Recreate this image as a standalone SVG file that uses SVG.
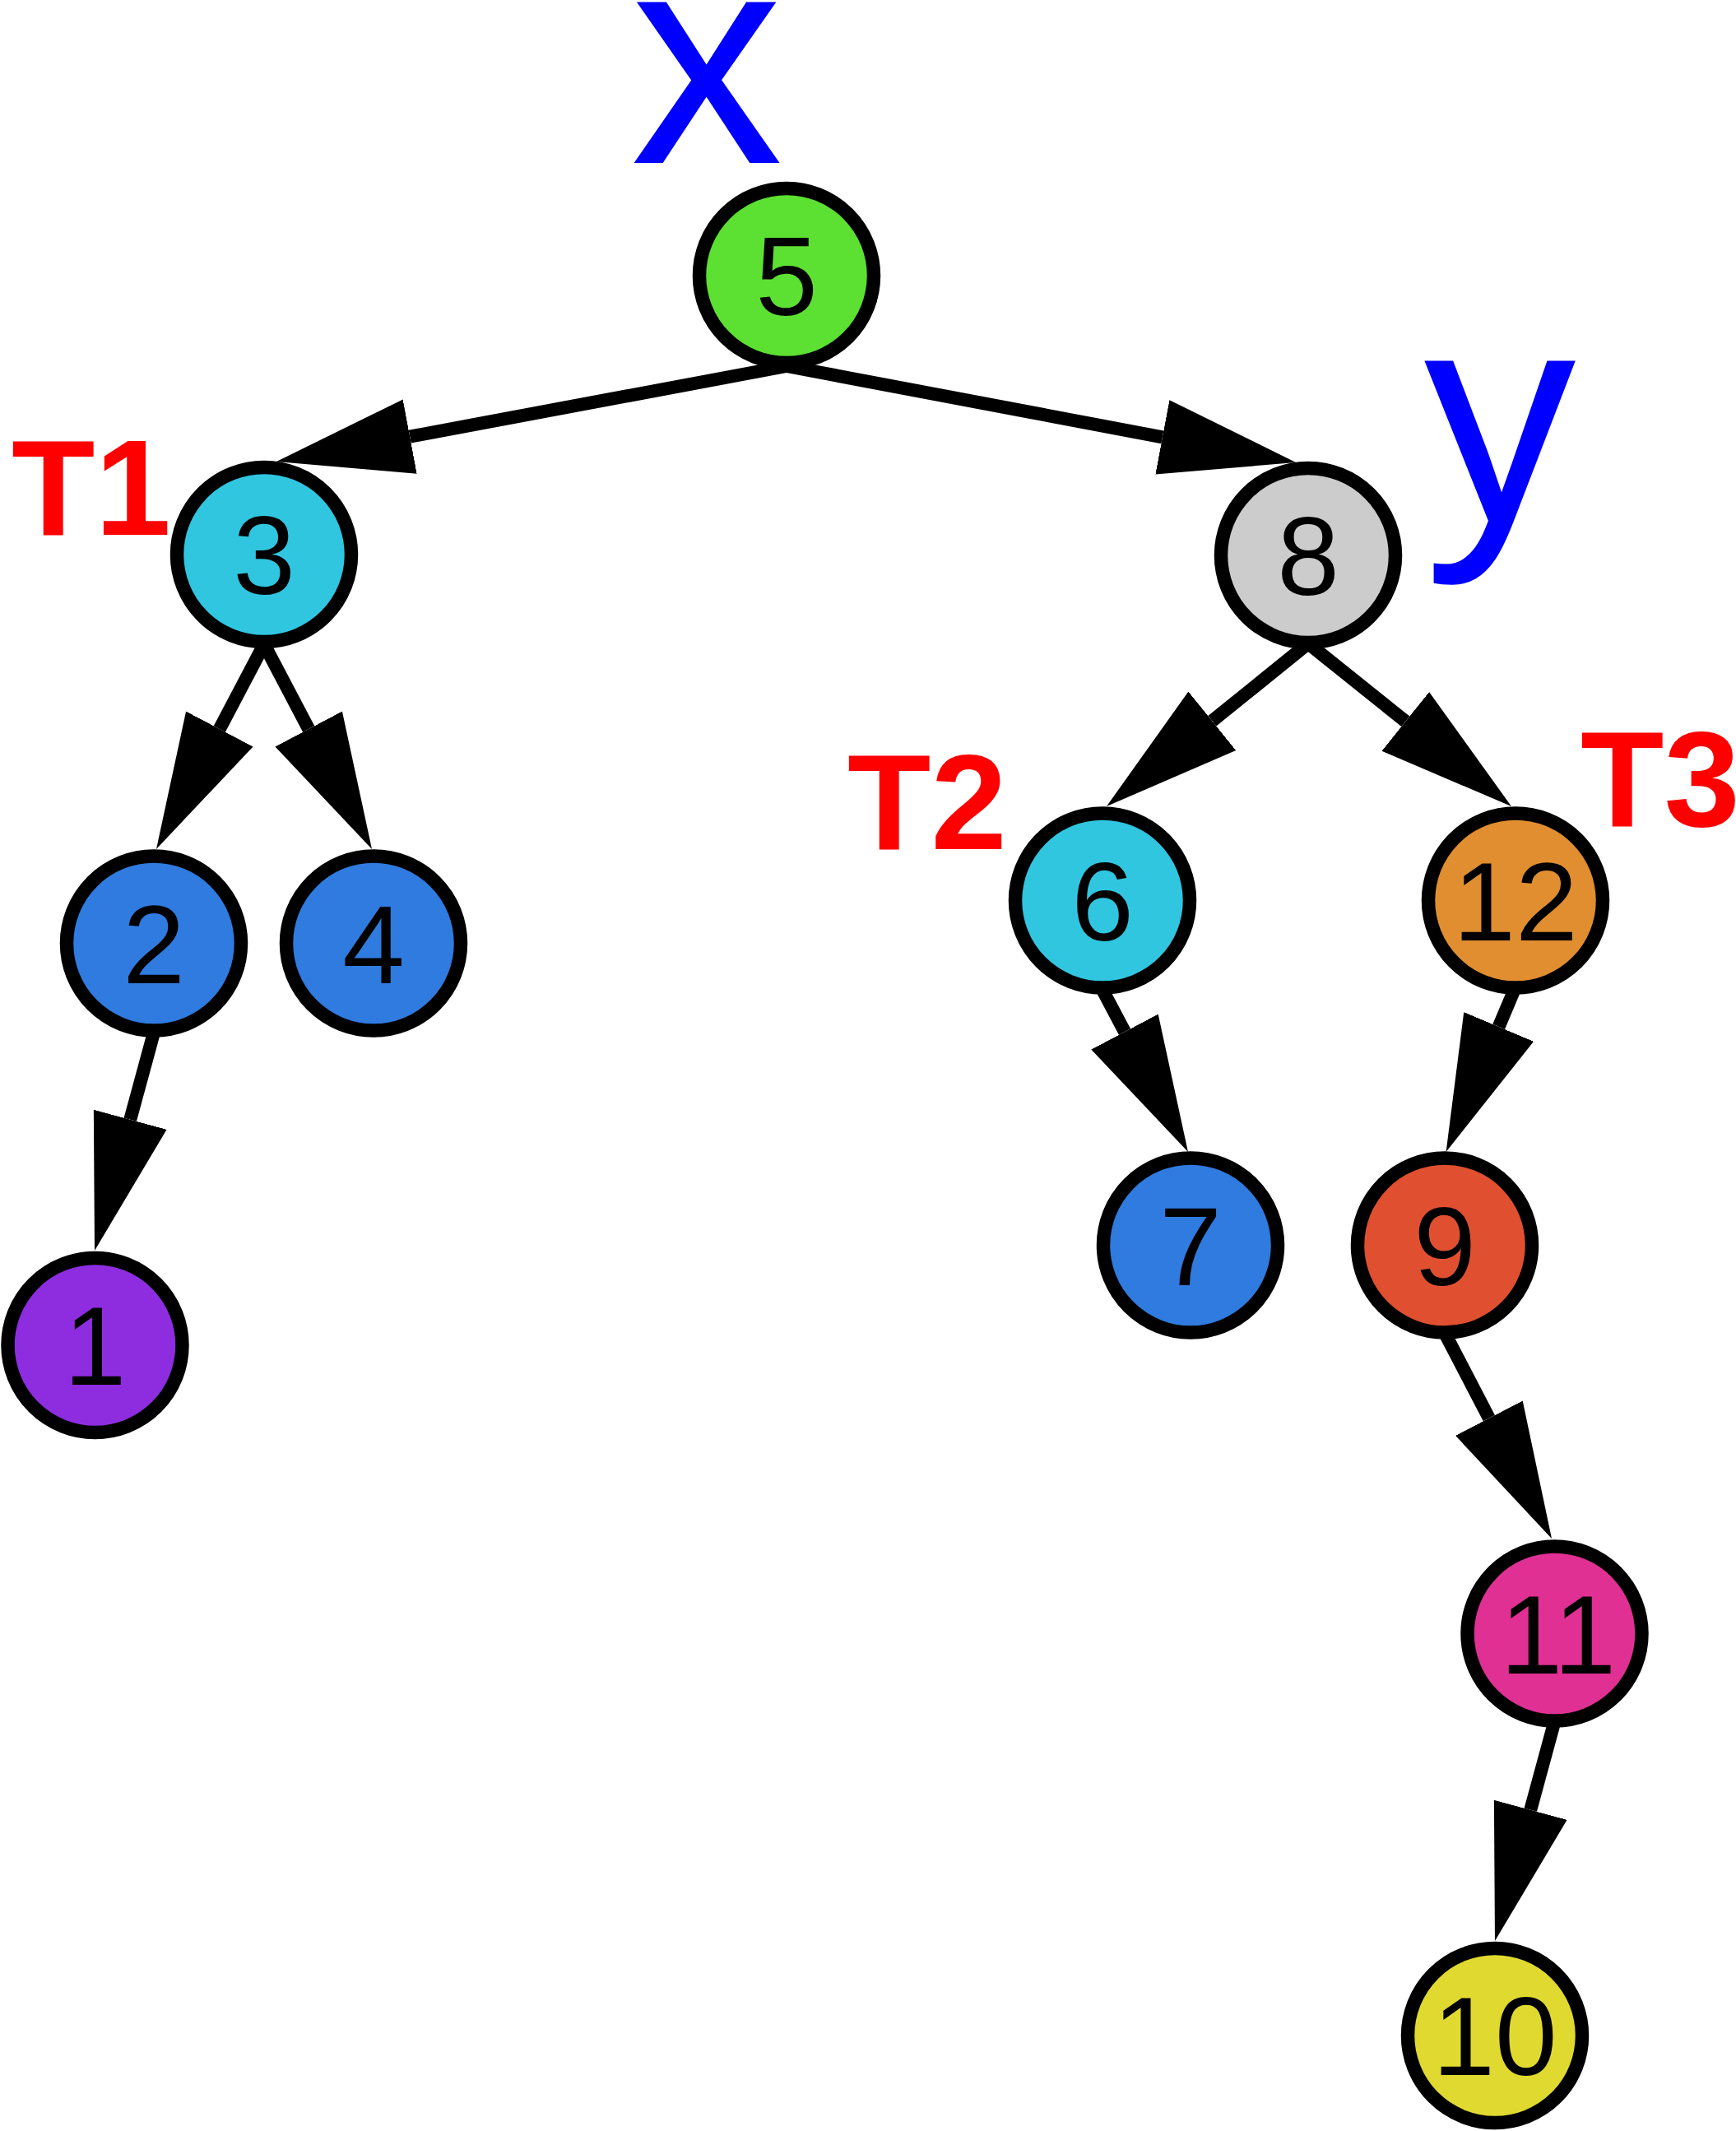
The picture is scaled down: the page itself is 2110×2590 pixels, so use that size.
<svg xmlns="http://www.w3.org/2000/svg" width="2110" height="2590" viewBox="0 0 2110 2590">
<style>
.edge{stroke:#000;stroke-width:16;fill:none;marker-end:url(#ah)}
.node circle{stroke:#000;stroke-width:16.5}
.node text{font-size:136px;fill:#000;text-anchor:middle}
.node text.abs{text-anchor:start}
.big{font-size:370px;fill:#0000FF;text-anchor:middle}
.tag{font-size:166px;font-weight:bold;fill:#FF0000}
</style>
<defs>
<marker id="ah" markerUnits="userSpaceOnUse" markerWidth="170" markerHeight="96" viewBox="0 0 170 96" refX="0" refY="48" orient="auto">
<path d="M0,2 L165,48 L0,94 Z" fill="#000"/>
</marker>
</defs>
<rect width="2110" height="2590" fill="#fff"/>
<g id="connectors">
<line class="edge" x1="956" y1="445" x2="498.19" y2="530.65"/>
<line class="edge" x1="956" y1="445" x2="1412.87" y2="531.35"/>
<line class="edge" x1="321" y1="783" x2="266.82" y2="885.98"/>
<line class="edge" x1="321" y1="783" x2="375.18" y2="885.98"/>
<line class="edge" x1="187" y1="1255" x2="158.26" y2="1360.77"/>
<line class="edge" x1="1590" y1="782" x2="1473.33" y2="876.29"/>
<line class="edge" x1="1590" y1="782" x2="1708.26" y2="876.80"/>
<line class="edge" x1="1340" y1="1203" x2="1366.97" y2="1254.09"/>
<line class="edge" x1="1841" y1="1202" x2="1821.65" y2="1247.94"/>
<line class="edge" x1="1757" y1="1622" x2="1809.86" y2="1723.62"/>
<line class="edge" x1="1889" y1="2094" x2="1860.26" y2="2199.77"/>
</g>
<g font-family="Liberation Sans, Arial, Helvetica, sans-serif">
<g id="node5" class="node"><circle cx="956" cy="335" r="106" fill="#5CE032"/><text x="956" y="383">5</text></g>
<g id="node3" class="node"><circle cx="321" cy="674" r="106" fill="#30C6E0"/><text x="321" y="722">3</text></g>
<g id="node8" class="node"><circle cx="1590" cy="675" r="106" fill="#CCCCCC"/><text x="1590" y="723">8</text></g>
<g id="node2" class="node"><circle cx="187" cy="1146.5" r="106" fill="#2F7BE0"/><text x="187" y="1194.5">2</text></g>
<g id="node4" class="node"><circle cx="454" cy="1146.5" r="106" fill="#2F7BE0"/><text x="454" y="1194.5">4</text></g>
<g id="node6" class="node"><circle cx="1340" cy="1094.5" r="106" fill="#30C6E0"/><text x="1340" y="1142.5">6</text></g>
<g id="node12" class="node"><circle cx="1842" cy="1094.5" r="106" fill="#E08E30"/><text x="1842" y="1142.5">12</text></g>
<g id="node1" class="node"><circle cx="115.5" cy="1635" r="106" fill="#8E2DE0"/><text x="115.5" y="1683">1</text></g>
<g id="node7" class="node"><circle cx="1447" cy="1513.5" r="106" fill="#2F7BE0"/><text x="1447" y="1561.5">7</text></g>
<g id="node9" class="node"><circle cx="1756" cy="1513.5" r="106" fill="#E05030"/><text x="1756" y="1561.5">9</text></g>
<g id="node11" class="node"><circle cx="1889.5" cy="1985.5" r="106" fill="#E03094"/><text class="abs" x="1823.5 1888.5" y="2033.5">11</text></g>
<g id="node10" class="node"><circle cx="1817" cy="2474" r="106" fill="#E0DA30"/><text x="1817" y="2522">10</text></g>
<g id="labels">
<text class="big" x="859" y="198">x</text>
<text class="big" x="1823" y="634">y</text>
<text class="tag" x="14" y="650">T1</text>
<text class="tag" x="1030" y="1032">T2</text>
<text class="tag" x="1921" y="1004">T3</text>
</g>
</g>
</svg>
